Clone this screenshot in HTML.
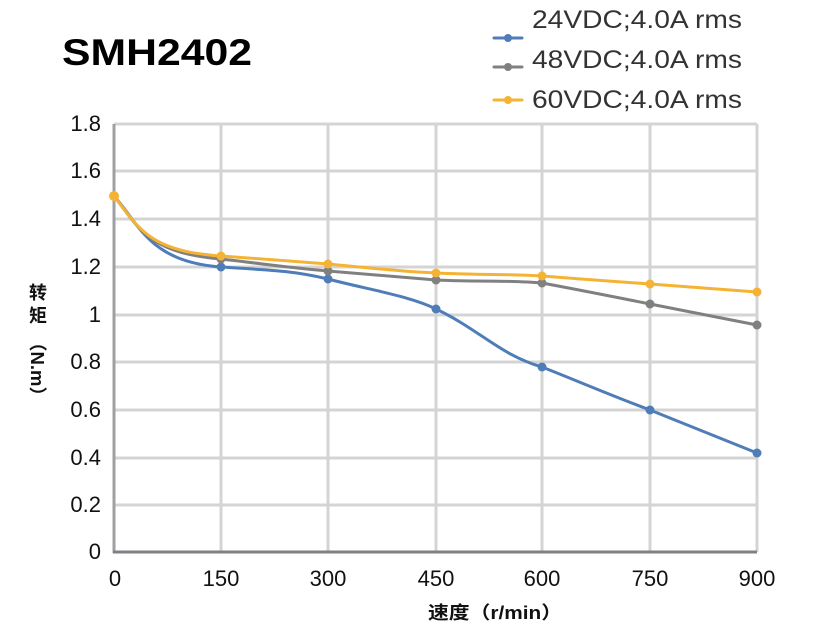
<!DOCTYPE html>
<html><head><meta charset="utf-8"><style>
body{margin:0;background:#fff;}
svg{display:block;font-family:"Liberation Sans","Noto Sans CJK SC",sans-serif;}
</style></head><body>
<svg width="831" height="640" viewBox="0 0 831 640">
<rect width="831" height="640" fill="#fff"/>
<text x="62" y="65" font-size="37" font-weight="bold" fill="#000" textLength="190" lengthAdjust="spacingAndGlyphs">SMH2402</text>
<g stroke-width="3" stroke-linecap="round">
<line x1="494" y1="38" x2="522" y2="38" stroke="#4F7DB8"/><circle cx="508" cy="38" r="4" fill="#4F7DB8"/>
<line x1="494" y1="67" x2="522" y2="67" stroke="#808080"/><circle cx="508" cy="67" r="4" fill="#808080"/>
<line x1="494" y1="100" x2="522" y2="100" stroke="#F5B335"/><circle cx="508" cy="100" r="4" fill="#F5B335"/>
</g>
<g font-size="25" fill="#333">
<text x="532" y="28" textLength="210" lengthAdjust="spacingAndGlyphs">24VDC;4.0A rms</text>
<text x="532" y="68" textLength="210" lengthAdjust="spacingAndGlyphs">48VDC;4.0A rms</text>
<text x="532" y="108" textLength="210" lengthAdjust="spacingAndGlyphs">60VDC;4.0A rms</text>
</g>
<g stroke="#d4d4d4" stroke-width="3">
<line x1="114" y1="124" x2="757" y2="124"/><line x1="114" y1="171" x2="757" y2="171"/>
<line x1="114" y1="219" x2="757" y2="219"/><line x1="114" y1="267" x2="757" y2="267"/>
<line x1="114" y1="315" x2="757" y2="315"/><line x1="114" y1="362" x2="757" y2="362"/>
<line x1="114" y1="410" x2="757" y2="410"/><line x1="114" y1="458" x2="757" y2="458"/>
<line x1="114" y1="505" x2="757" y2="505"/>
<line x1="221" y1="124" x2="221" y2="552"/><line x1="328" y1="124" x2="328" y2="552"/>
<line x1="436" y1="124" x2="436" y2="552"/><line x1="542" y1="124" x2="542" y2="552"/>
<line x1="650" y1="124" x2="650" y2="552"/><line x1="757" y1="124" x2="757" y2="552"/>
</g>
<line x1="114" y1="124" x2="114" y2="553" stroke="#a0a0a4" stroke-width="3"/>
<line x1="113" y1="552" x2="757" y2="552" stroke="#7f7f84" stroke-width="3"/>
<g font-size="22" fill="#111" text-anchor="end">
<text x="101" y="131">1.8</text><text x="101" y="178">1.6</text><text x="101" y="226">1.4</text>
<text x="101" y="274">1.2</text><text x="101" y="322">1</text><text x="101" y="369">0.8</text>
<text x="101" y="417">0.6</text><text x="101" y="465">0.4</text><text x="101" y="512">0.2</text>
<text x="101" y="559">0</text>
</g>
<g font-size="22" fill="#111" text-anchor="middle">
<text x="115" y="586">0</text><text x="221" y="586">150</text><text x="328" y="586">300</text>
<text x="436" y="586">450</text><text x="542" y="586">600</text><text x="650" y="586">750</text>
<text x="757" y="586">900</text>
</g>
<text x="428" y="619" font-size="18" font-weight="bold" fill="#111" textLength="134" lengthAdjust="spacingAndGlyphs">速度（r/min）</text>
<text transform="translate(38,299)" font-size="18" font-weight="bold" text-anchor="middle" fill="#111">转</text>
<text transform="translate(38,322)" font-size="18" font-weight="bold" text-anchor="middle" fill="#111">矩</text>
<text transform="translate(31,333) rotate(90)" font-size="18" font-weight="bold" fill="#111" textLength="72" lengthAdjust="spacingAndGlyphs">（N.m）</text>
<g fill="none" stroke-width="3">
<path stroke="#4F7DB8" d="M114,196 C140,225 150,262 221,267 C265,270 290,270 328,279 C370,290 410,296 436,309 C480,330 500,355 542,367 C580,382 610,395 650,410 L757,453"/>
<path stroke="#808080" d="M114,196 C140,230 150,253 221,259 C265,264 290,268 328,271 C380,275 410,278 436,280 C480,282 510,280 542,283 C580,290 610,296 650,304 L757,325"/>
<path stroke="#F5B335" d="M114,196 C140,230 150,251 221,256 C265,259 290,261 328,264 C380,269 410,272 436,273 C480,275 510,274 542,276 C580,279 610,281 650,284 L757,292"/>
</g>
<g fill="#4F7DB8"><circle cx="221" cy="267" r="4.5"/><circle cx="328" cy="279" r="4.5"/><circle cx="436" cy="309" r="4.5"/><circle cx="542" cy="367" r="4.5"/><circle cx="650" cy="410" r="4.5"/><circle cx="757" cy="453" r="4.5"/></g>
<g fill="#808080"><circle cx="221" cy="259" r="4.5"/><circle cx="328" cy="271" r="4.5"/><circle cx="436" cy="280" r="4.5"/><circle cx="542" cy="283" r="4.5"/><circle cx="650" cy="304" r="4.5"/><circle cx="757" cy="325" r="4.5"/></g>
<g fill="#F5B335"><circle cx="114" cy="196" r="5"/><circle cx="221" cy="256" r="4.5"/><circle cx="328" cy="264" r="4.5"/><circle cx="436" cy="273" r="4.5"/><circle cx="542" cy="276" r="4.5"/><circle cx="650" cy="284" r="4.5"/><circle cx="757" cy="292" r="4.5"/></g>
</svg>
</body></html>
